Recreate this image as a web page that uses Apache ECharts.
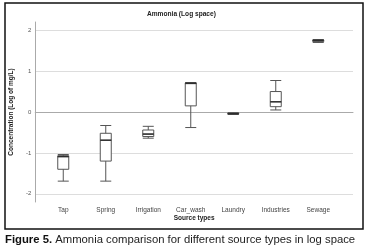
<!DOCTYPE html>
<html>
<head>
<meta charset="utf-8">
<script src="https://cdn.jsdelivr.net/npm/echarts@6/dist/echarts.min.js"></script>
<style>
  html, body { margin: 0; padding: 0; background: #fff; }
  #chart { width: 372px; height: 252px; }
</style>
</head>
<body>
<div id="chart"></div>
<script>
// source types on the x axis
const categories = ['Tap', 'Spring', 'Irrigation', 'Car_wash', 'Laundry', 'Industries', 'Sewage'];
// [min, Q1, median, Q3, max] in log10(mg/L)
const boxValues = [
  [-1.69, -1.40, -1.09, -1.07, -1.04],
  [-1.69, -1.20, -0.69, -0.52, -0.33],
  [-0.64, -0.60, -0.54, -0.44, -0.35],
  [-0.38, 0.15, 0.70, 0.71, 0.72],
  [-0.06, -0.05, -0.04, -0.03, -0.02],
  [0.05, 0.13, 0.25, 0.50, 0.77],
  [1.70, 1.72, 1.75, 1.76, 1.77]
];
const yTicks = [-2, -1, 0, 1, 2];

const font = '"Liberation Sans", Arial, sans-serif';
let chart = echarts.init(document.getElementById('chart'));

let medians = boxValues.map(function (b, i) { return [i, b[2]]; });

let option = {
  animation: false,
  title: [
    {
      text: 'Ammonia (Log space)',
      left: 147, top: 11, padding: 0,
      textStyle: { fontFamily: font, fontSize: 6.6, fontWeight: 'bold', color: '#222' }
    },
    {
      text: '{b|Figure 5.} Ammonia comparison for different source types in log space',
      left: 5, top: 234, padding: 0,
      textStyle: {
        fontFamily: font, fontSize: 11.3, fontWeight: 'normal', color: '#222',
        rich: { b: { fontFamily: font, fontSize: 11.3, fontWeight: 'bold', color: '#111' } }
      }
    }
  ],
  graphic: [{
    type: 'rect',
    shape: { x: 5, y: 3, width: 358, height: 226 },
    style: { fill: 'none', stroke: '#111', lineWidth: 1.5 },
    silent: true
  }],
  grid: [
    // boxes
    { left: 42, right: 32.5, top: 22, bottom: 50 },
    // axes, grid lines
    { left: 26, right: 19, top: 22, bottom: 50 }
  ],
  xAxis: [
    {
      type: 'category', gridIndex: 0, data: categories,
      axisLine: { show: false }, axisTick: { show: false },
      axisLabel: { fontFamily: font, fontSize: 6.5, color: '#444', margin: 5 },
      splitLine: { show: false }
    },
    {
      type: 'value', gridIndex: 1, min: 0, max: 1,
      name: 'Source types', nameLocation: 'middle', nameGap: 13,
      nameTextStyle: { fontFamily: font, fontSize: 6.5, fontWeight: 'bold', color: '#222' },
      axisLine: { show: true, lineStyle: { color: '#aaa', width: 1 } },
      axisTick: { show: false }, axisLabel: { show: false }, splitLine: { show: false }
    }
  ],
  yAxis: [
    {
      type: 'value', gridIndex: 0, min: -2.2, max: 2.2,
      axisLine: { show: false }, axisTick: { show: false },
      axisLabel: { show: false }, splitLine: { show: false }
    },
    {
      type: 'value', gridIndex: 1, min: -2.2, max: 2.2,
      name: 'Concentration (Log of mg/L)', nameLocation: 'middle', nameGap: 11,
      nameTextStyle: { fontFamily: font, fontSize: 6.5, fontWeight: 'bold', color: '#222' },
      axisLine: { show: true, lineStyle: { color: '#aaa', width: 1 } },
      axisTick: { show: false, customValues: yTicks },
      axisLabel: {
        fontFamily: font, fontSize: 6, color: '#555', margin: 4,
        customValues: yTicks,
        formatter: function (v) { return String(v); }
      },
      splitLine: { show: true, lineStyle: { color: '#ddd', width: 1 } }
    }
  ],
  series: [
    {
      type: 'boxplot',
      xAxisIndex: 0, yAxisIndex: 0,
      data: boxValues,
      boxWidth: [11, 11],
      itemStyle: { color: '#fff', borderColor: '#555', borderWidth: 1 },
      z: 3
    },
    {
      type: 'scatter',
      xAxisIndex: 0, yAxisIndex: 0,
      data: medians,
      symbol: 'rect',
      symbolSize: [11, 1.6],
      itemStyle: { color: '#222' },
      z: 4
    }
  ]
};

chart.setOption(option);
</script>
</body>
</html>
